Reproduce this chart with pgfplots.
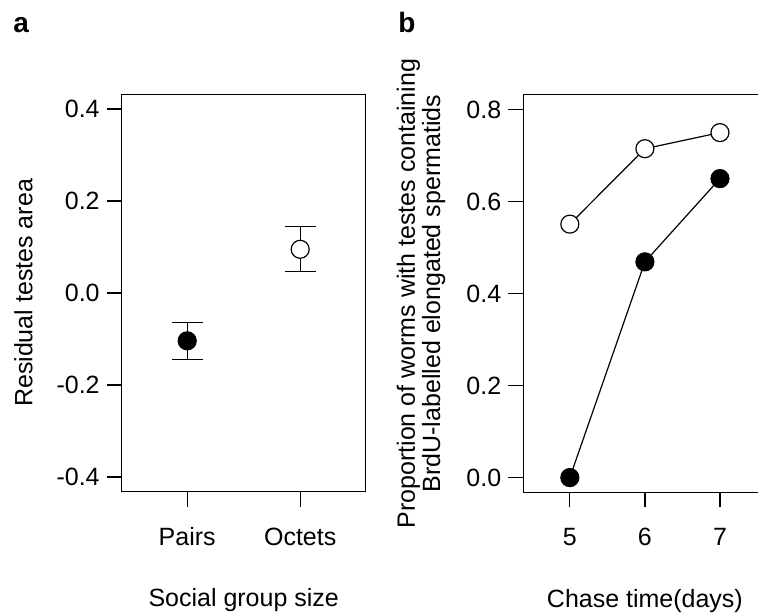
\documentclass[border=0pt]{standalone}
\usepackage{fontspec}
\setmainfont{Liberation Sans}
\usepackage{pgfplots}
\pgfplotsset{compat=1.18}
\begin{document}
\begin{tikzpicture}
\pgfplotsset{
  rstyle/.style={
    scale only axis, width=122pt, height=198.7pt,
    axis line style={line width=0.6pt},
    tick align=outside, tick pos=left, major tick length=7.5pt,
    tick style={line width=0.6pt, black},
    every tick label/.append style={font=\fontsize{12.5}{15}\selectfont},
    xticklabel style={text height=9pt, text depth=2.6pt, yshift=-6.8pt},
    label style={font=\fontsize{12.5}{15}\selectfont},
  },
  filled/.style={mark=*, mark size=4.5pt, line width=0.6pt, black,
    mark options={fill=black, draw=black}},
  open/.style={mark=*, mark size=4.5pt, line width=0.6pt, black,
    mark options={fill=white, draw=black}},
}
% panel a
\begin{axis}[rstyle, at={(60.85pt,61.15pt)}, anchor=south west,
    xmin=0.42, xmax=2.58, ymin=-0.432, ymax=0.432,
    xtick={1,2}, xticklabels={Pairs,Octets},
    ytick={-0.4,-0.2,0,0.2,0.4}, yticklabels={-0.4,-0.2,0.0,0.2,0.4},
    xlabel={Social group size}, ylabel={Residual testes area},
    xlabel style={at={(axis description cs:0.5,-0.2725)}, anchor=center},
    ylabel style={at={(axis description cs:-0.403,0.5)}, anchor=center},
]
\addplot[filled, only marks, error bars/.cd, y dir=both, y explicit,
    error bar style={line width=0.6pt, black},
    error mark options={rotate=90, mark size=7.75pt, line width=0.6pt, black}]
  coordinates {(1,-0.104) +- (0,0.040)};
\addplot[open, only marks, error bars/.cd, y dir=both, y explicit,
    error bar style={line width=0.6pt, black},
    error mark options={rotate=90, mark size=7.75pt, line width=0.6pt, black}]
  coordinates {(2,0.095) +- (0,0.049)};
\end{axis}
% panel b
\begin{axis}[rstyle, at={(261.65pt,60.85pt)}, anchor=south west, width=121.6pt,
    xmin=4.38, xmax=7.62, ymin=-0.032, ymax=0.832,
    xtick={5,6,7}, xticklabels={5,6,7},
    ytick={0,0.2,0.4,0.6,0.8}, yticklabels={0.0,0.2,0.4,0.6,0.8},
    xlabel={Chase time(days)},
    ylabel={Proportion of worms with testes containing\\BrdU-labelled elongated spermatids},
    xlabel style={at={(axis description cs:0.5,-0.2725)}, anchor=center},
    ylabel style={at={(axis description cs:-0.4207,0.5)}, anchor=center,
      align=center, font=\fontsize{12.5}{10.5}\selectfont},
]
\addplot[open] coordinates {(5,0.551) (6,0.715) (7,0.750)};
\addplot[filled] coordinates {(5,0.0) (6,0.469) (7,0.650)};
\end{axis}
\node[anchor=base west, inner sep=0, font=\bfseries\fontsize{14}{16}\selectfont] at (6.5pt,290.5pt) {a};
\node[anchor=base west, inner sep=0, font=\bfseries\fontsize{14}{16}\selectfont] at (199pt,290.5pt) {b};
\pgfresetboundingbox
\useasboundingbox (0pt,0pt) rectangle (379pt,307pt);
\end{tikzpicture}
\end{document}
